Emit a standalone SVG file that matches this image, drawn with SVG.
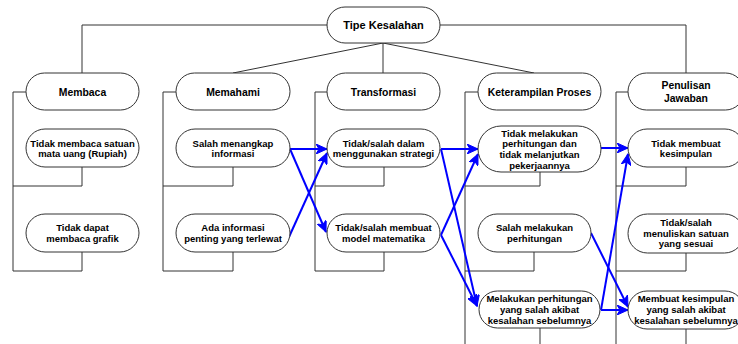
<svg xmlns="http://www.w3.org/2000/svg" width="738" height="344" viewBox="0 0 738 344">
<style>
.n{fill:#fff;stroke:#333;stroke-width:1}
.t{font-family:"Liberation Sans",Arial,sans-serif;font-weight:bold;fill:#000;text-anchor:middle;dominant-baseline:central}
.s{font-size:9.5px}
.c{font-size:10.4px}
.h{font-size:11px}
.l{fill:none;stroke:#333;stroke-width:1}
.b{fill:none;stroke:#0000ff;stroke-width:2;marker-end:url(#ah)}
</style>
<defs>
<marker id="ah" markerUnits="userSpaceOnUse" markerWidth="12" markerHeight="10" refX="11" refY="5" orient="auto">
<path d="M0,0 L11,5 L0,10 L3,5 Z" fill="#0000ff" stroke="#0000ff" stroke-width="1"/>
</marker>
</defs>
<rect width="738" height="344" fill="#fff"/>
<g id="connectors">
<path class="l" d="M327,25 H82 V73"/>
<path class="l" d="M440,25 H686 V73"/>
<path class="l" d="M383,43 L233,73"/>
<path class="l" d="M383,43 V73"/>
<path class="l" d="M383,43 L534,73"/>
<path class="l" d="M26,92 H13 V271 H82 V252"/>
<path class="l" d="M13,186 H82 V167"/>
<path class="l" d="M176,92 H163 V271 H233 V252"/>
<path class="l" d="M163,186 H233 V167"/>
<path class="l" d="M327,92 H315 V271 H384 V252"/>
<path class="l" d="M315,186 H384 V167"/>
<path class="l" d="M478,92 H465 V344"/>
<path class="l" d="M465,186 H540 V172"/>
<path class="l" d="M465,271 H534 V252"/>
<path class="l" d="M540,328 V344"/>
<path class="l" d="M628,92 H616 V344"/>
<path class="l" d="M616,186 H686 V167"/>
<path class="l" d="M616,271 H686 V253"/>
<path class="l" d="M686,329 V344"/>
<path class="b" d="M290,149 L327,149"/>
<path class="b" d="M290,149 L326,232"/>
<path class="b" d="M289,237 L327,153"/>
<path class="b" d="M441,149 L478,149"/>
<path class="b" d="M441,149 L477,306"/>
<path class="b" d="M441,235 L478,154"/>
<path class="b" d="M441,235 L477,306"/>
<path class="b" d="M601,148 L628,148"/>
<path class="b" d="M591,233 L628,307"/>
<path class="b" d="M601,310 L628,310"/>
<path class="b" d="M601,310 L628,154"/>
</g>
<g id="tipe-kesalahan">
<rect class="n" x="327" y="7" width="113" height="36" rx="18"/>
<text class="t h" x="383.5" y="25">Tipe Kesalahan</text>
</g>
<g id="membaca">
<rect class="n" x="26" y="73" width="113" height="37" rx="18.5"/>
<text class="t c" x="82.5" y="92">Membaca</text>
</g>
<g id="memahami">
<rect class="n" x="176" y="73" width="114" height="37" rx="18.5"/>
<text class="t c" x="233" y="92">Memahami</text>
</g>
<g id="transformasi">
<rect class="n" x="327" y="73" width="113" height="37" rx="18.5"/>
<text class="t c" x="383.5" y="92">Transformasi</text>
</g>
<g id="keterampilan-proses">
<rect class="n" x="478" y="73" width="123" height="37" rx="18.5"/>
<text class="t c" x="539.5" y="92">Keterampilan Proses</text>
</g>
<g id="penulisan-jawaban">
<rect class="n" x="628" y="73" width="116" height="37" rx="18.5"/>
<text class="t c" x="686" y="85.5">Penulisan</text>
<text class="t c" x="686" y="98">Jawaban</text>
</g>
<g id="membaca-1">
<rect class="n" x="26" y="129" width="113" height="38" rx="19"/>
<text class="t s" x="82.5" y="143.2">Tidak membaca satuan</text>
<text class="t s" x="82.5" y="153.8">mata uang (Rupiah)</text>
</g>
<g id="membaca-2">
<rect class="n" x="26" y="214" width="113" height="38" rx="19"/>
<text class="t s" x="82.5" y="227.6">Tidak dapat</text>
<text class="t s" x="82.5" y="238.4">membaca grafik</text>
</g>
<g id="memahami-1">
<rect class="n" x="176" y="129" width="114" height="38" rx="19"/>
<text class="t s" x="233" y="143.2">Salah menangkap</text>
<text class="t s" x="233" y="153.8">informasi</text>
</g>
<g id="memahami-2">
<rect class="n" x="176" y="214" width="114" height="38" rx="19"/>
<text class="t s" x="233" y="227.6">Ada informasi</text>
<text class="t s" x="233" y="238.4">penting yang terlewat</text>
</g>
<g id="transformasi-1">
<rect class="n" x="327" y="129" width="113" height="38" rx="19"/>
<text class="t s" x="383.5" y="143.2">Tidak/salah dalam</text>
<text class="t s" x="383.5" y="153.8">menggunakan strategi</text>
</g>
<g id="transformasi-2">
<rect class="n" x="327" y="214" width="113" height="38" rx="19"/>
<text class="t s" x="383.5" y="227.6">Tidak/salah membuat</text>
<text class="t s" x="383.5" y="238.4">model matematika</text>
</g>
<g id="keterampilan-1">
<rect class="n" x="478" y="126" width="123" height="46" rx="23"/>
<text class="t s" x="539.5" y="133">Tidak melakukan</text>
<text class="t s" x="539.5" y="143.7">perhitungan dan</text>
<text class="t s" x="539.5" y="154.3">tidak melanjutkan</text>
<text class="t s" x="539.5" y="165">pekerjaannya</text>
</g>
<g id="keterampilan-2">
<rect class="n" x="478" y="214" width="113" height="38" rx="19"/>
<text class="t s" x="534.5" y="227.6">Salah melakukan</text>
<text class="t s" x="534.5" y="238.4">perhitungan</text>
</g>
<g id="keterampilan-3">
<rect class="n" x="479" y="291" width="121" height="37" rx="18.5"/>
<text class="t s" x="539.5" y="298.8">Melakukan perhitungan</text>
<text class="t s" x="539.5" y="309.5">yang salah akibat</text>
<text class="t s" x="539.5" y="320.2">kesalahan sebelumnya</text>
</g>
<g id="penulisan-1">
<rect class="n" x="628" y="129" width="116" height="38" rx="19"/>
<text class="t s" x="686" y="143.2">Tidak membuat</text>
<text class="t s" x="686" y="153.8">kesimpulan</text>
</g>
<g id="penulisan-2">
<rect class="n" x="628" y="214" width="116" height="39" rx="19.5"/>
<text class="t s" x="686" y="222.3">Tidak/salah</text>
<text class="t s" x="686" y="233">menuliskan satuan</text>
<text class="t s" x="686" y="243.7">yang sesuai</text>
</g>
<g id="penulisan-3">
<rect class="n" x="628" y="291" width="116" height="38" rx="19"/>
<text class="t s" x="686" y="298.8">Membuat kesimpulan</text>
<text class="t s" x="686" y="309.5">yang salah akibat</text>
<text class="t s" x="686" y="320.2">kesalahan sebelumnya</text>
</g>
</svg>
